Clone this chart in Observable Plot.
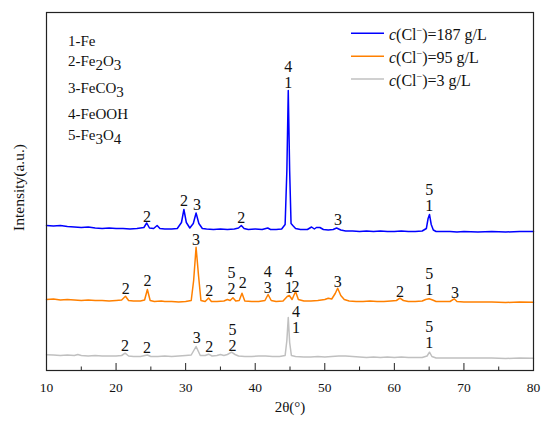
<!DOCTYPE html>
<html><head><meta charset="utf-8">
<script src="https://cdn.jsdelivr.net/npm/d3@7"></script>
<script src="https://cdn.jsdelivr.net/npm/@observablehq/plot@0.6"></script>
<style>
body{margin:0;background:#fff}
#chart svg, #chart svg text, #chart svg tspan { font-family: 'Liberation Serif', 'Times New Roman', serif !important; }
</style>
</head><body><div id="chart"></div>
<script>
// ---- data ----
const xTicks = [10, 20, 30, 40, 50, 60, 70, 80];
const xMinorTicks = [15, 25, 35, 45, 55, 65, 75];
const seriesNames = ["187", "95", "3"];
const seriesColors = ["#0000ff", "#ff8000", "#c0c0c0"];
const phaseIds = ["1", "2", "3", "4", "5"];
const phaseFormulas = ["Fe", "Fe2O3", "FeCO3", "FeOOH", "Fe3O4"];

// [2θ, intensity (a.u., offset patterns)]
const s187 = [[10,145],[11,144.5],[12,145],[13,144],[14,143.5],[15,143],[16,143.5],[17,142.5],[18,142],[19,142.5],[20,142],[21,142],[22,141.5],[23,142],[23.5,142.5],[24.0,143],[24.4,147.5],[24.8,142.5],[25.4,142],[25.9,145],[26.3,142],[27,141.5],[28,141.5],[28.8,142],[29.4,148],[29.75,161],[30.1,148],[30.6,142.5],[31.1,147],[31.5,157.5],[31.9,147],[32.4,142],[33,141.5],[34,141],[35,141.5],[36,141],[37,141.5],[37.6,142.5],[38.0,145],[38.4,142],[39,141],[40,141.5],[41,141],[41.8,142.5],[42.2,141],[43,141],[43.8,141.5],[44.3,146],[44.55,200],[44.75,280],[44.95,200],[45.15,147],[45.4,145],[45.8,142],[46.5,141],[47.5,141],[48.1,143.5],[48.5,141.5],[48.8,143],[49.3,143],[49.8,141],[50.5,140.5],[51.2,141],[51.7,142.5],[52.3,140.5],[53,139.5],[54,139.5],[55,139],[56,139.5],[57,139],[58,139.5],[59,139],[60,139],[61,139.5],[62,139],[63,139],[64,139.5],[64.6,142],[64.85,152],[65.05,156],[65.3,146],[65.6,140.5],[66,139],[67,139],[68,139],[69,138.5],[70,139],[72,138.5],[74,139],[76,138.5],[78,139],[80,139]];
const s95 = [[10,71],[11,71.5],[12,70.5],[13,71],[14,70.5],[15,70],[16,70.5],[17,70],[18,70],[19,69.5],[20,70],[20.8,70.5],[21.35,74.3],[21.8,70],[22.5,69.5],[23.5,69.5],[24.1,70.5],[24.5,81],[24.9,70],[25.5,69],[26.5,69.5],[27,69],[28,69],[29,68.5],[30,69],[30.8,70],[31.15,90],[31.5,123.3],[31.85,95],[32.2,70],[32.8,69],[33.3,72.5],[33.7,69],[34.5,69],[35.5,69.5],[36,71],[36.4,70],[36.8,72.8],[37.2,69.5],[37.7,70],[38.1,77.3],[38.5,69.5],[39.5,69],[40.5,69],[41.4,70],[41.85,76],[42.3,70],[43,69],[44,69.5],[44.6,74],[44.9,75],[45.3,71],[45.8,79],[46.2,71],[47,69.5],[48,69.5],[49,70],[50,71],[50.5,72.3],[51,71.5],[51.5,77],[51.85,82.3],[52.3,75],[52.8,71],[53.5,69.5],[54.5,69],[55.5,69],[56.5,69.5],[57.5,69],[58.5,69],[59.5,69.5],[60.3,70],[60.8,72.3],[61.3,70],[62,69],[63,69],[64,69.5],[64.5,71],[65,71.7],[65.5,70.5],[66,69],[67,69],[68,69],[68.6,71.7],[69,69],[70,68.5],[72,68.5],[74,68.5],[76,68],[78,68.5],[80,68.3]];
const s3 = [[10,15.7],[11,15.5],[12,15],[13,15.5],[14,15],[14.5,16],[15,15],[16,14.5],[17,15],[18,14.5],[19,14.5],[20,14.5],[20.8,15],[21.3,17.3],[21.8,14.5],[22.5,14],[23.5,14],[24.5,15.5],[25,14],[26,14],[27,14.5],[28,14],[29,14.5],[30,15],[30.8,15.5],[31.5,24],[32.1,15],[32.8,15],[33.3,16.3],[33.8,14.5],[34.5,15],[35,16],[35.5,15],[36,16],[36.6,18.3],[37.1,16],[37.6,14.5],[38.5,14],[39.5,14],[40.5,14.5],[41.5,14.5],[42.5,14],[43.5,14],[44.3,15],[44.55,30],[44.75,53],[44.95,28],[45.2,15],[45.8,14],[47,13.5],[48,13.5],[49,14],[50,13.5],[51,14],[52,14.5],[53,14.5],[54,14],[55,13.5],[56,13],[57,13.5],[58,13],[59,13.5],[60,13],[61,13.5],[62,13],[63,13],[64,13],[64.7,14.5],[65.05,18.3],[65.4,14],[66,12.5],[67,12.5],[68,12.5],[69,12.5],[70,12.5],[72,12.5],[74,12.5],[76,12],[78,12.5],[80,12.3]];

// peak labels [2θ, intensity at text baseline, phase numbers]
const labels187 = [[24.45,149,"2"],[29.75,164.3,"2"],[31.65,161,"3"],[38.0,147.3,"2"],[44.75,283,"4\n1"],[51.9,146,"3"],[65.0,160,"5\n1"]];
const labels95 = [[21.4,77,"2"],[24.5,84.3,"2"],[31.5,126,"3"],[33.4,75,"2"],[36.6,77,"5\n2"],[38.2,83,"2"],[41.8,77.3,"4\n3"],[44.85,77.3,"4\n1"],[45.8,78.3,"2"],[51.85,84,"3"],[60.8,74,"2"],[65.0,75.7,"5\n1"],[68.7,73,"3"]];
const labels3 = [[21.3,20,"2"],[24.45,17.3,"2"],[31.6,27.3,"3"],[33.4,18.3,"2"],[36.75,20,"5\n2"],[45.85,37.3,"4\n1"],[65.0,22.3,"5\n1"]];

// ---- build tables ----
const rows = [];
[s187, s95, s3].forEach((s, i) => s.forEach(([t, v]) => rows.push({theta: t, I: v, series: seriesNames[i]})));
const labelRows = [...labels187, ...labels95, ...labels3].map(([t, v, txt]) => ({theta: t, I: v, txt}));

const serif = "'Liberation Serif', 'Times New Roman', serif";

const chart = Plot.plot({
  width: 550,
  height: 422,
  marginLeft: 46,
  marginRight: 17,
  marginTop: 12,
  marginBottom: 52,
  style: {fontFamily: serif, background: "#fff", color: "#111"},
  x: {domain: [10, 80]},
  y: {domain: [0, 358], axis: null},
  color: {domain: seriesNames, range: seriesColors},
  marks: [
    Plot.line(rows, {x: "theta", y: "I", z: "series", stroke: "series", strokeWidth: 1.5}),
    Plot.text(labelRows, {x: "theta", y: "I", text: "txt", textAnchor: "middle", lineAnchor: "bottom", lineHeight: 1, fontSize: 16, fill: "#111"}),
    Plot.tickX(xTicks, {x: d => d, insetTop: 351, stroke: "#222"}),
    Plot.tickX(xMinorTicks, {x: d => d, insetTop: 354.5, stroke: "#222"}),
    Plot.axisX({ticks: xTicks, tickSize: 0, tickPadding: 12, fontSize: 13.5, label: null}),
    Plot.frame({stroke: "#222", strokeWidth: 1.2}),
    Plot.text(["2θ(°)"], {text: d => d, frameAnchor: "bottom", lineAnchor: "bottom", dy: 41.7, fontSize: 15, fill: "#111"}),
    Plot.text(["Intensity(a.u.)"], {text: d => d, frameAnchor: "left", textAnchor: "middle", lineAnchor: "middle", rotate: -90, dx: -27, dy: -4, fontSize: 15.5, fill: "#111"})
  ]
});
chart.setAttribute("font-family", serif);
document.getElementById("chart").appendChild(chart);

// ---- legend (rich text) ----
const svg = d3.select(chart);
const lg = svg.append("g").attr("font-family", serif).attr("font-size", 16).attr("fill", "#111").attr("text-anchor", "start");
seriesNames.forEach((n, i) => {
  const y = 33.3 + i * 22.9;
  lg.append("line").attr("x1", 351).attr("x2", 384).attr("y1", y).attr("y2", y)
    .attr("stroke", seriesColors[i]).attr("stroke-width", 1.5);
  const t = lg.append("text").attr("x", 389).attr("y", y + 6.5);
  t.append("tspan").attr("font-style", "italic").text("c");
  t.append("tspan").text("(Cl");
  t.append("tspan").attr("font-size", 10).attr("dy", -6).text("−");
  t.append("tspan").attr("dy", 6).text(`)=${n} g/L`);
});

// ---- phase key ----
const baselines = [45.7, 66.3, 93, 119, 140];
const pk = svg.append("g").attr("font-family", serif).attr("font-size", 15).attr("fill", "#111").attr("text-anchor", "start");
phaseIds.forEach((id, i) => {
  const t = pk.append("text").attr("x", 68).attr("y", baselines[i]);
  t.append("tspan").text(id + "-");
  let shifted = false;
  (phaseFormulas[i].match(/[A-Za-z]+|\d+/g) || []).forEach(part => {
    if (/\d/.test(part)) {
      t.append("tspan").attr("dy", 3.5).text(part);
      shifted = true;
    } else {
      t.append("tspan").attr("dy", shifted ? -3.5 : null).text(part);
      shifted = false;
    }
  });
});
</script>
</body></html>
